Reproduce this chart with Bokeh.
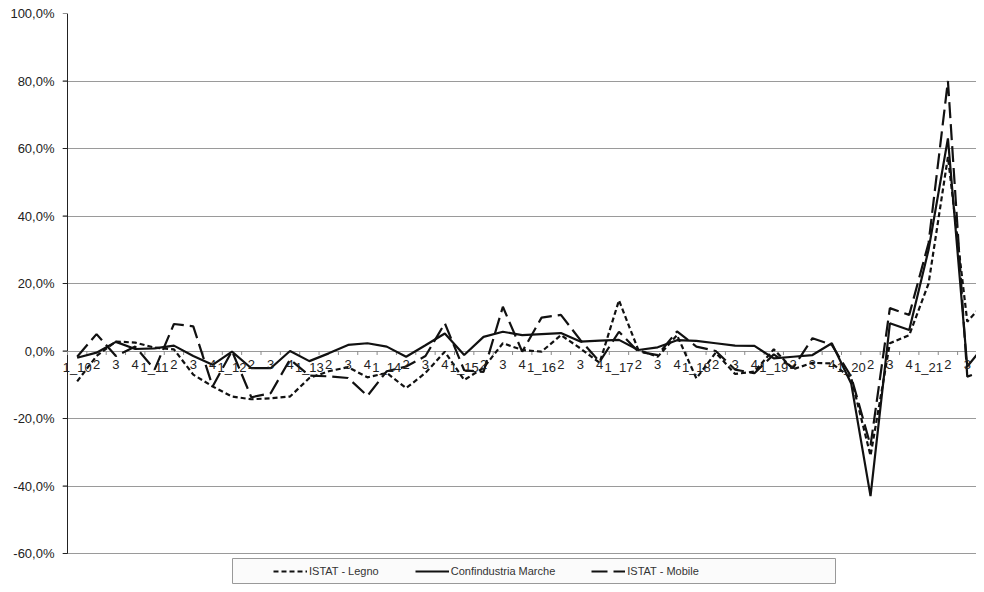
from bokeh.plotting import figure
from bokeh.models import Range1d, FixedTicker, Legend, LegendItem, LabelSet, ColumnDataSource
from bokeh.embed import file_html
from bokeh.resources import INLINE
from bokeh.core.properties import value

# quarter labels (Q_year), as shown on the category axis
quarters = ["1_10", "2", "3", "4", "1_11", "2", "3", "4",
            "1_12", "2", "3", "4", "1_13", "2", "3", "4",
            "1_14", "2", "3", "4", "1_15", "2", "3", "4",
            "1_16", "2", "3", "4", "1_17", "2", "3", "4",
            "1_18", "2", "3", "4", "1_19", "2", "3", "4",
            "1_20", "2", "3", "4", "1_21", "2", "3", "4"]

istat_legno = [-9.0, -1.5, 2.8, 2.5, 1.0, 0.5, -7.0, -10.5,
               -13.5, -14.3, -14.0, -13.5, -8.0, -6.0, -4.8, -7.8,
               -6.5, -11.0, -6.5, -0.2, -8.6, -5.0, 2.3, 0.3,
               -0.2, 4.7, 0.8, -3.5, 15.0, 0.3, -1.7, 4.7,
               -8.1, -0.5, -6.8, -6.1, 0.5, -5.4, -3.5, -3.7,
               -8.0, -31.0, 2.3, 4.7, 20.0, 57.5, 8.7, 15.0]

confindustria = [-2.0, -0.5, 2.7, 0.6, 0.8, 1.6, -1.5, -4.1,
                 -0.2, -5.1, -5.1, 0.0, -3.0, -0.7, 1.8, 2.3,
                 1.3, -1.7, 1.7, 5.2, -1.2, 4.2, 5.7, 4.7,
                 5.0, 5.3, 2.8, 3.1, 3.3, 0.3, 1.1, 3.2,
                 3.0, 2.3, 1.6, 1.5, -2.2, -1.7, -1.2, 2.3,
                 -9.6, -43.0, 8.2, 6.2, 30.0, 63.0, -4.6, 2.5]

istat_mobile = [-1.7, 5.0, -1.5, 1.3, -5.5, 8.0, 7.3, -10.5,
                0.0, -13.7, -12.5, -2.5, -7.3, -7.5, -8.0, -13.3,
                -6.0, -4.6, -1.5, 8.2, -5.7, -6.2, 13.1, -0.2,
                9.9, 10.7, 3.3, -3.2, 5.7, -0.2, -1.2, 5.8,
                1.3, 0.0, -5.5, -6.6, -1.0, -5.0, 3.8, 1.8,
                -7.6, -28.0, 12.7, 10.7, 32.0, 80.0, -7.6, -5.5]

y_ticks = [-60, -40, -20, 0, 20, 40, 60, 80, 100]
y_tick_labels = ["-60,0%", "-40,0%", "-20,0%", "0,0%", "20,0%",
                 "40,0%", "60,0%", "80,0%", "100,0%"]

FONT = "Liberation Sans"
n = len(quarters)
xs = [i + 0.5 for i in range(n)]

# layout constants (pixels)
W, H = 976, 584
AXIS_X, TOP = 67, 13        # value-axis position and top of plot area
TICK = 5                    # tick length (px)
FRAME_LEFT = AXIS_X - TICK  # frame starts at the tick ends so labels are not clipped
PX_PER_UNIT = 3.375         # pixels per percentage point
PX_PER_CAT = 19.35          # pixels per quarter
frame_h = H - TOP
y_top = 100
y_bottom = y_top - frame_h / PX_PER_UNIT
x_start = -TICK / PX_PER_CAT
x_end = (W - AXIS_X) / PX_PER_CAT

def py(fig_y):
    """figure pixel row -> data y"""
    return y_top - (fig_y - TOP) / PX_PER_UNIT

def px(fig_x):
    """figure pixel column -> data x"""
    return (fig_x - AXIS_X) / PX_PER_CAT

p = figure(width=W, height=H, output_backend="svg", toolbar_location=None,
           x_range=Range1d(x_start, x_end), y_range=Range1d(y_bottom, y_top),
           x_axis_location=None,
           min_border_left=FRAME_LEFT, min_border_right=0, min_border_top=TOP,
           min_border_bottom=0)
p.outline_line_color = None
p.background_fill_color = "white"
p.border_fill_color = "white"

# y axis: real axis used for the labels only; line and ticks drawn at x=0
p.yaxis.ticker = FixedTicker(ticks=y_ticks)
p.yaxis.major_label_overrides = {t: l for t, l in zip(y_ticks, y_tick_labels)}
p.yaxis.major_label_text_font = FONT
p.yaxis.major_label_text_font_size = "13px"
p.yaxis.major_label_text_color = "#222222"
p.yaxis.axis_line_color = None
p.yaxis.major_tick_line_color = None
p.yaxis.major_tick_out = 0
p.yaxis.major_tick_in = 0
p.yaxis.minor_tick_line_color = None
p.yaxis.major_label_standoff = 8
p.ygrid.grid_line_color = "#9a9a9a"
p.ygrid.grid_line_width = 1
p.xgrid.visible = False

# value-axis line and ticks
p.segment(x0=[0], y0=[y_ticks[0]], x1=[0], y1=[y_ticks[-1]],
          line_color="#222222", line_width=1)
p.segment(x0=[x_start] * len(y_ticks), y0=y_ticks, x1=[0] * len(y_ticks), y1=y_ticks,
          line_color="#222222", line_width=1)

# category axis drawn at the zero line
tick_len = 4 / PX_PER_UNIT
bounds = list(range(n + 1))
p.segment(x0=bounds, y0=[0] * len(bounds), x1=bounds, y1=[-tick_len] * len(bounds),
          line_color="#8a8a8a", line_width=1)
vis = [i for i in range(n) if xs[i] + 0.35 < x_end]
lab_src = ColumnDataSource(dict(x=[xs[i] for i in vis],
                                y=[-9 / PX_PER_UNIT] * len(vis),
                                t=[quarters[i] for i in vis]))
p.add_layout(LabelSet(x="x", y="y", text="t", source=lab_src,
                      text_align="center", text_baseline="top",
                      text_font=value(FONT), text_font_size="13px",
                      text_color="#222222"))

r_legno = p.line(xs, istat_legno, line_color="#111111", line_width=2.2,
                 line_dash="5 3")
r_conf = p.line(xs, confindustria, line_color="#111111", line_width=2.2)
r_mob = p.line(xs, istat_mobile, line_color="#111111", line_width=2.2,
               line_dash="16 6")

# legend box
p.quad(left=[px(232)], right=[px(835)], top=[py(558)], bottom=[py(583)],
       fill_color="#fbfbfb", line_color="#999999", line_width=1)

legend = Legend(items=[LegendItem(label="ISTAT - Legno", renderers=[r_legno]),
                       LegendItem(label="Confindustria Marche", renderers=[r_conf]),
                       LegendItem(label="ISTAT - Mobile", renderers=[r_mob])],
                orientation="horizontal", location=(273 - FRAME_LEFT, 6),
                margin=0, padding=0, spacing=36, label_standoff=2,
                glyph_width=34, glyph_height=14, label_height=14,
                label_text_font=FONT, label_text_font_size="11px",
                label_text_color="#333333",
                border_line_color=None, background_fill_alpha=0.0)
p.add_layout(legend)

open("out.html", "w").write(file_html(p, INLINE))
